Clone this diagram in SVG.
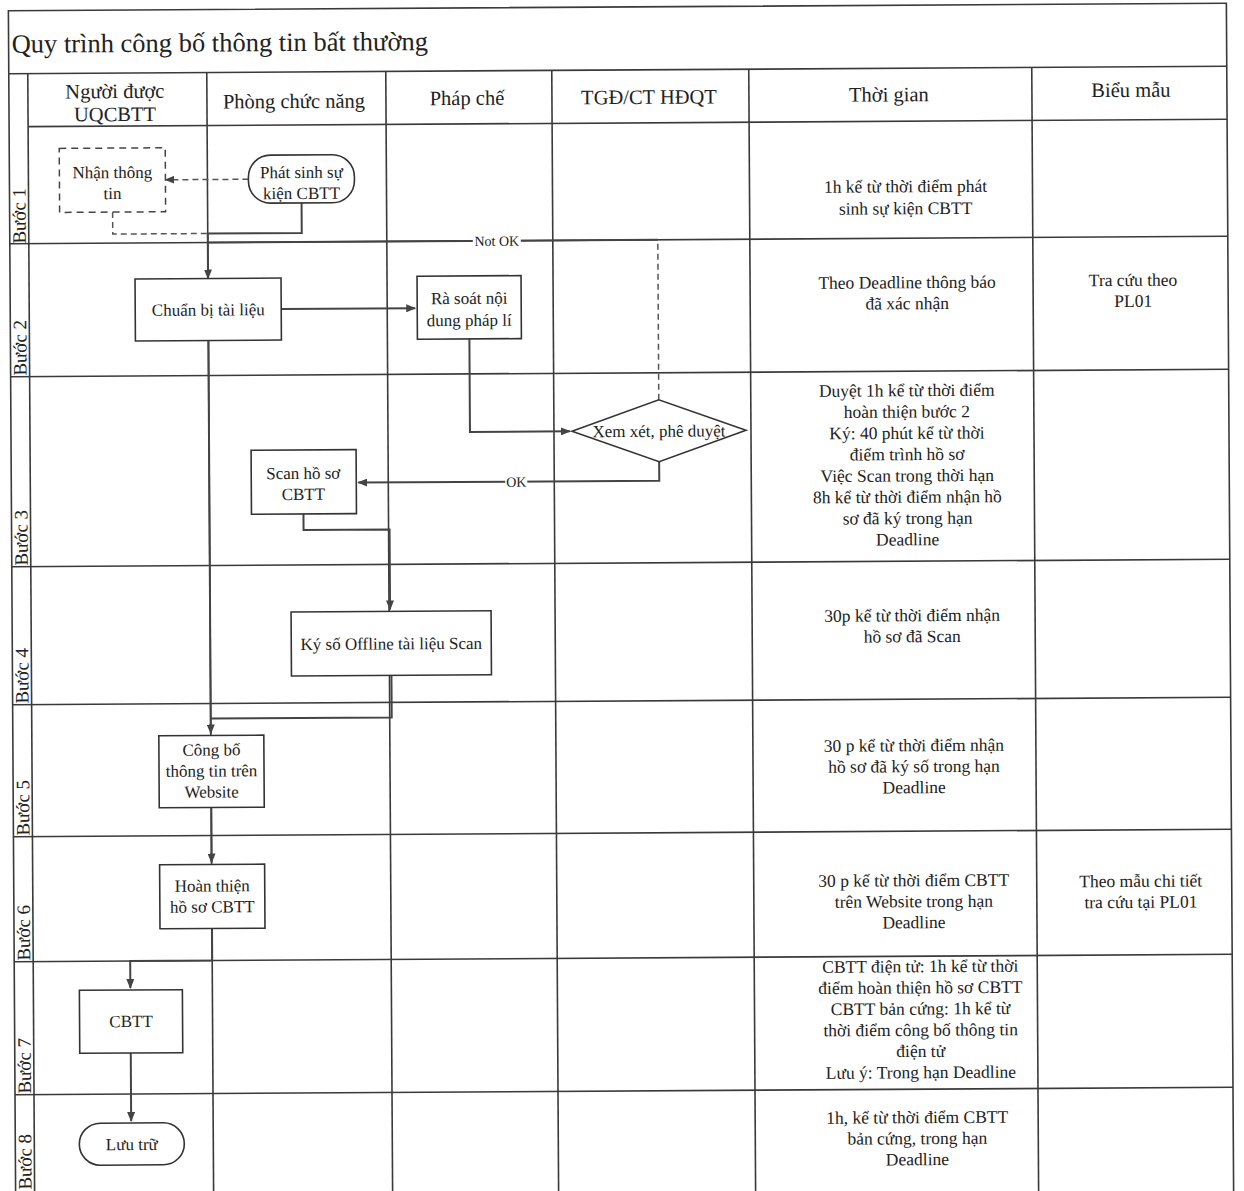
<svg xmlns="http://www.w3.org/2000/svg" width="1244" height="1191" viewBox="0 0 1244 1191">
<defs>
<marker id="arr" markerWidth="10" markerHeight="8" refX="9" refY="4" orient="auto" markerUnits="userSpaceOnUse"><path d="M0,0 L10,4 L0,8 z" fill="#444"/></marker>
<style>
.grid{stroke:#3a3a3a;stroke-width:1.6;fill:none}
.node{fill:#fff;stroke:#333;stroke-width:1.6}
.dnode{fill:#fff;stroke:#444;stroke-width:1.5;stroke-dasharray:7 5}
.conn{fill:none;stroke:#444;stroke-width:2}
.dconn{fill:none;stroke:#555;stroke-width:1.5;stroke-dasharray:6 4}
text{font-family:"Liberation Serif","Times New Roman",serif;fill:#222}
.nt{font-size:17px;text-anchor:middle}
.hd{font-size:20.5px;text-anchor:middle}
.tm{font-size:17.5px;text-anchor:middle}
.st{font-size:19px}
.lbl{font-size:14px;text-anchor:middle}
</style>
</defs>
<rect width="1244" height="1191" fill="#fff"/>
<g transform="rotate(-0.35 620 600)">
<g id="grid">
<rect class="grid" x="12" y="7" width="1218" height="1200"/>
<line class="grid" x1="12" y1="70" x2="1230" y2="70"/>
<line class="grid" x1="31" y1="123" x2="1230" y2="123"/>
<line class="grid" x1="12" y1="240" x2="1230" y2="240"/>
<line class="grid" x1="12" y1="373" x2="1230" y2="373"/>
<line class="grid" x1="12" y1="563" x2="1230" y2="563"/>
<line class="grid" x1="12" y1="701" x2="1230" y2="701"/>
<line class="grid" x1="12" y1="833" x2="1230" y2="833"/>
<line class="grid" x1="12" y1="958" x2="1230" y2="958"/>
<line class="grid" x1="12" y1="1091" x2="1230" y2="1091"/>
<line class="grid" x1="31" y1="70" x2="31" y2="1207"/>
<line class="grid" x1="210" y1="70" x2="210" y2="1207"/>
<line class="grid" x1="389" y1="70" x2="389" y2="1207"/>
<line class="grid" x1="555" y1="70" x2="555" y2="1207"/>
<line class="grid" x1="752" y1="70" x2="752" y2="1207"/>
<line class="grid" x1="1035" y1="70" x2="1035" y2="1207"/>
</g>
<g id="headers">
<text x="15" y="49" style="font-size:26.5px">Quy trình công bố thông tin bất thường</text>
<text class="hd" x="118" y="95">Người được</text>
<text class="hd" x="118" y="118">UQCBTT</text>
<text class="hd" x="297" y="106">Phòng chức năng</text>
<text class="hd" x="470" y="104">Pháp chế</text>
<text class="hd" x="652" y="104">TGĐ/CT HĐQT</text>
<text class="hd" x="892" y="103">Thời gian</text>
<text class="hd" x="1134" y="100">Biểu mẫu</text>
</g>
<g id="steps">
<text class="st" transform="translate(28 240) rotate(-90)">Bước 1</text>
<text class="st" transform="translate(28 372) rotate(-90)">Bước 2</text>
<text class="st" transform="translate(28 562) rotate(-90)">Bước 3</text>
<text class="st" transform="translate(28 700) rotate(-90)">Bước 4</text>
<text class="st" transform="translate(28 832) rotate(-90)">Bước 5</text>
<text class="st" transform="translate(28 957) rotate(-90)">Bước 6</text>
<text class="st" transform="translate(28 1090) rotate(-90)">Bước 7</text>
<text class="st" transform="translate(28 1186) rotate(-90)">Bước 8</text>
</g>
<g id="connectors">
<path class="conn" d="M304,201 V231 H210 V276" marker-end="url(#arr)"/>
<path class="dconn" d="M115,209 V231 H210"/>
<path class="dconn" d="M251,177 H168" marker-end="url(#arr)"/>
<path class="conn" d="M283,307 H417" marker-end="url(#arr)"/>
<path class="conn" d="M471,338 V431 H571" marker-end="url(#arr)"/>
<path class="dconn" d="M660,400 V240"/>
<path class="conn" d="M660,240 H210"/>
<rect x="475" y="232" width="48" height="16" fill="#fff"/>
<text class="lbl" x="499" y="245">Not OK</text>
<path class="conn" d="M660,462 V481 H359" marker-end="url(#arr)"/>
<rect x="506" y="473" width="22" height="16" fill="#fff"/>
<text class="lbl" x="517" y="486">OK</text>
<path class="conn" d="M304,512 V528 H390 V608" marker-end="url(#arr)"/>
<path class="conn" d="M391,674 V716 H210"/>
<path class="conn" d="M210,338 V731" marker-end="url(#arr)"/>
<path class="conn" d="M210,805 V860" marker-end="url(#arr)"/>
<path class="conn" d="M210,926 V958 H128 V985" marker-end="url(#arr)"/>
<path class="conn" d="M128,1050 V1118" marker-end="url(#arr)"/>
</g>
<g id="n_nhan">
<rect class="dnode" x="62" y="145" width="106" height="64"/>
<text class="nt" x="115" y="175">Nhận thông</text>
<text class="nt" x="115" y="196">tin</text>
</g>
<g id="n_phatsinh">
<rect class="node" x="251" y="153" width="106" height="48" rx="22" ry="22"/>
<text class="nt" x="304" y="176">Phát sinh sự</text>
<text class="nt" x="304" y="197">kiện CBTT</text>
</g>
<g id="n_chuanbi">
<rect class="node" x="137" y="276" width="146" height="62"/>
<text class="nt" x="210" y="313">Chuẩn bị tài liệu</text>
</g>
<g id="n_rasoat">
<rect class="node" x="419" y="275" width="104" height="63"/>
<text class="nt" x="471" y="303">Rà soát nội</text>
<text class="nt" x="471" y="325">dung pháp lí</text>
</g>
<g id="n_xemxet">
<polygon class="node" points="573,431 660,400 747,431 660,462"/>
<text class="nt" x="660" y="437">Xem xét, phê duyệt</text>
</g>
<g id="n_scan">
<rect class="node" x="252" y="448" width="105" height="64"/>
<text class="nt" x="304" y="477">Scan hồ sơ</text>
<text class="nt" x="304" y="498">CBTT</text>
</g>
<g id="n_kyso">
<rect class="node" x="291" y="610" width="200" height="64"/>
<text class="nt" x="391" y="648">Ký số Offline tài liệu Scan</text>
</g>
<g id="n_congbo">
<rect class="node" x="158" y="733" width="105" height="72"/>
<text class="nt" x="210.5" y="753">Công bố</text>
<text class="nt" x="210.5" y="774">thông tin trên</text>
<text class="nt" x="210.5" y="795">Website</text>
</g>
<g id="n_hoanthien">
<rect class="node" x="158" y="862" width="105" height="64"/>
<text class="nt" x="210.5" y="889">Hoàn thiện</text>
<text class="nt" x="210.5" y="910">hồ sơ CBTT</text>
</g>
<g id="n_cbtt">
<rect class="node" x="77" y="987" width="103" height="63"/>
<text class="nt" x="128.5" y="1024">CBTT</text>
</g>
<g id="n_luutru">
<rect class="node" x="76" y="1120" width="105" height="42" rx="21" ry="21"/>
<text class="nt" x="128.5" y="1147">Lưu trữ</text>
</g>
<g id="time">
<text class="tm" x="908" y="194">1h kể từ thời điểm phát<tspan x="908" dy="22">sinh sự kiện CBTT</tspan></text>
<text class="tm" x="909" y="290">Theo Deadline thông báo<tspan x="909" dy="21">đã xác nhận</tspan></text>
<text class="tm" x="908" y="398">Duyệt 1h kể từ thời điểm<tspan x="908" dy="21.3">hoàn thiện bước 2</tspan><tspan x="908" dy="21.3">Ký: 40 phút kể từ thời</tspan><tspan x="908" dy="21.3">điểm trình hồ sơ</tspan><tspan x="908" dy="21.3">Việc Scan trong thời hạn</tspan><tspan x="908" dy="21.3">8h kể từ thời điểm nhận hồ</tspan><tspan x="908" dy="21.3">sơ đã ký trong hạn</tspan><tspan x="908" dy="21.3">Deadline</tspan></text>
<text class="tm" x="912" y="623">30p kể từ thời điểm nhận<tspan x="912" dy="21">hồ sơ đã Scan</tspan></text>
<text class="tm" x="913" y="753">30 p kể từ thời điểm nhận<tspan x="913" dy="21">hồ sơ đã ký số trong hạn</tspan><tspan x="913" dy="21">Deadline</tspan></text>
<text class="tm" x="912" y="888">30 p kể từ thời điểm CBTT<tspan x="912" dy="21">trên Website trong hạn</tspan><tspan x="912" dy="21">Deadline</tspan></text>
<text class="tm" x="918" y="974">CBTT điện tử: 1h kể từ thời<tspan x="918" dy="21.2">điểm hoàn thiện hồ sơ CBTT</tspan><tspan x="918" dy="21.2">CBTT bản cứng:  1h kể từ</tspan><tspan x="918" dy="21.2">thời điểm công bố thông tin</tspan><tspan x="918" dy="21.2">điện tử</tspan><tspan x="918" dy="21.2">Lưu ý: Trong hạn Deadline</tspan></text>
<text class="tm" x="914" y="1125">1h, kể từ thời điểm CBTT<tspan x="914" dy="21">bản cứng, trong hạn</tspan><tspan x="914" dy="21">Deadline</tspan></text>
</g>
<g id="forms">
<text class="tm" x="1135" y="289">Tra cứu theo<tspan x="1135" dy="21">PL01</tspan></text>
<text class="tm" x="1139" y="890">Theo mẫu chi tiết<tspan x="1139" dy="21">tra cứu tại PL01</tspan></text>
</g>
</g>
</svg>
